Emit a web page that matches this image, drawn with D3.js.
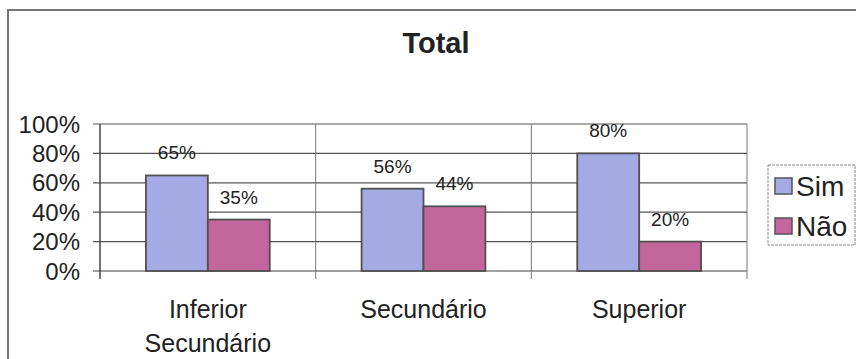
<!DOCTYPE html>
<html><head><meta charset="utf-8">
<script src="https://cdn.jsdelivr.net/npm/d3@7"></script>
<style>body{margin:0;background:#fff;} svg{display:block;font-family:"Liberation Sans",Arial,sans-serif;}</style>
</head><body>
<svg id="c" width="856" height="359"></svg>
<script>
const categories = [["Inferior","Secundário"],["Secundário"],["Superior"]];
const categoryKeys = ["Inferior Secundário","Secundário","Superior"];
const seriesNames = ["Sim","Não"];
const simValues = [0.65,0.56,0.80];
const naoValues = [0.35,0.44,0.20];
const yTicks = [0,0.2,0.4,0.6,0.8,1.0];
const colors = {"Sim":"#a4aae4","Não":"#c3669b"};

(function(){
const svg = d3.select("#c");
const pL=100, pR=747, pT=124, pB=271;

// frame
svg.append("path").attr("d","M8,359V10H856").attr("fill","none").attr("stroke","#777").attr("stroke-width",2);

svg.append("text").attr("x",436).attr("y",53).attr("text-anchor","middle")
  .attr("font-size",29).attr("font-weight","bold").attr("fill","#222").text("Total");

const x0 = d3.scaleBand().domain(categoryKeys).range([pL,pR]).paddingInner(0).paddingOuter(0);
const x1 = d3.scaleBand().domain(seriesNames).range([0,x0.bandwidth()]).paddingInner(0).paddingOuter(0.742);
const y = d3.scaleLinear().domain([0,1]).range([pB,pT]);

// gridlines
svg.append("g").selectAll("line").data(yTicks).join("line")
  .attr("x1",pL-7).attr("x2",pR).attr("y1",d=>y(d)).attr("y2",d=>y(d))
  .attr("stroke",(d)=>d===0?"#444":"#555").attr("stroke-width",1.2);

// vertical dividers
const bounds = categoryKeys.map(c=>x0(c)).concat([pR]);
svg.append("g").selectAll("line").data(bounds).join("line")
  .attr("x1",d=>d).attr("x2",d=>d).attr("y1",pT).attr("y2",pB+8)
  .attr("stroke",(d,i)=>i===0?"#444":"#777").attr("stroke-width",(d,i)=>i===0?1.5:1);

// y tick labels
svg.append("g").selectAll("text").data(yTicks).join("text")
  .attr("x",80).attr("y",d=>y(d)).attr("dy","0.36em").attr("text-anchor","end")
  .attr("font-size",24).attr("fill","#222").text(d=>d3.format(".0%")(d));

const data = categoryKeys.map((c,i)=>({cat:c, vals:[{s:"Sim",v:simValues[i]},{s:"Não",v:naoValues[i]}]}));

const g = svg.append("g").selectAll("g").data(data).join("g")
  .attr("transform",d=>`translate(${x0(d.cat)},0)`);
g.selectAll("rect").data(d=>d.vals).join("rect")
  .attr("x",d=>x1(d.s)).attr("width",x1.bandwidth())
  .attr("y",d=>y(d.v)).attr("height",d=>y(0)-y(d.v))
  .attr("fill",d=>colors[d.s]).attr("stroke","#505050").attr("stroke-width",1.8);
g.selectAll("text").data(d=>d.vals).join("text")
  .attr("x",d=>x1(d.s)+x1.bandwidth()/2).attr("y",d=>y(d.v)-16)
  .attr("text-anchor","middle").attr("font-size",19).attr("fill","#222")
  .text(d=>d3.format(".0%")(d.v));

// category labels
const cl = svg.append("g").selectAll("text").data(categoryKeys).join("text")
  .attr("x",d=>x0(d)+x0.bandwidth()/2).attr("y",318).attr("text-anchor","middle")
  .attr("font-size",25).attr("fill","#222");
cl.selectAll("tspan").data((d,i)=>categories[i]).join("tspan")
  .attr("x",function(){return d3.select(this.parentNode).attr("x");})
  .attr("dy",(d,i)=>i===0?0:34).text(d=>d);

// legend
const lg = svg.append("g");
lg.append("rect").attr("x",768).attr("y",165).attr("width",87).attr("height",80)
  .attr("fill","#fff").attr("stroke","#888").attr("stroke-width",1).attr("stroke-dasharray","3,1");
const li = lg.selectAll("g").data(seriesNames).join("g")
  .attr("transform",(d,i)=>`translate(0,${i*40})`);
li.append("rect").attr("x",775).attr("y",178).attr("width",17).attr("height",16)
  .attr("fill",d=>colors[d]).attr("stroke","#555").attr("stroke-width",1.5);
li.append("text").attr("x",796).attr("y",196).attr("font-size",28).attr("fill","#222").text(d=>d);
})();
</script>
</body></html>
